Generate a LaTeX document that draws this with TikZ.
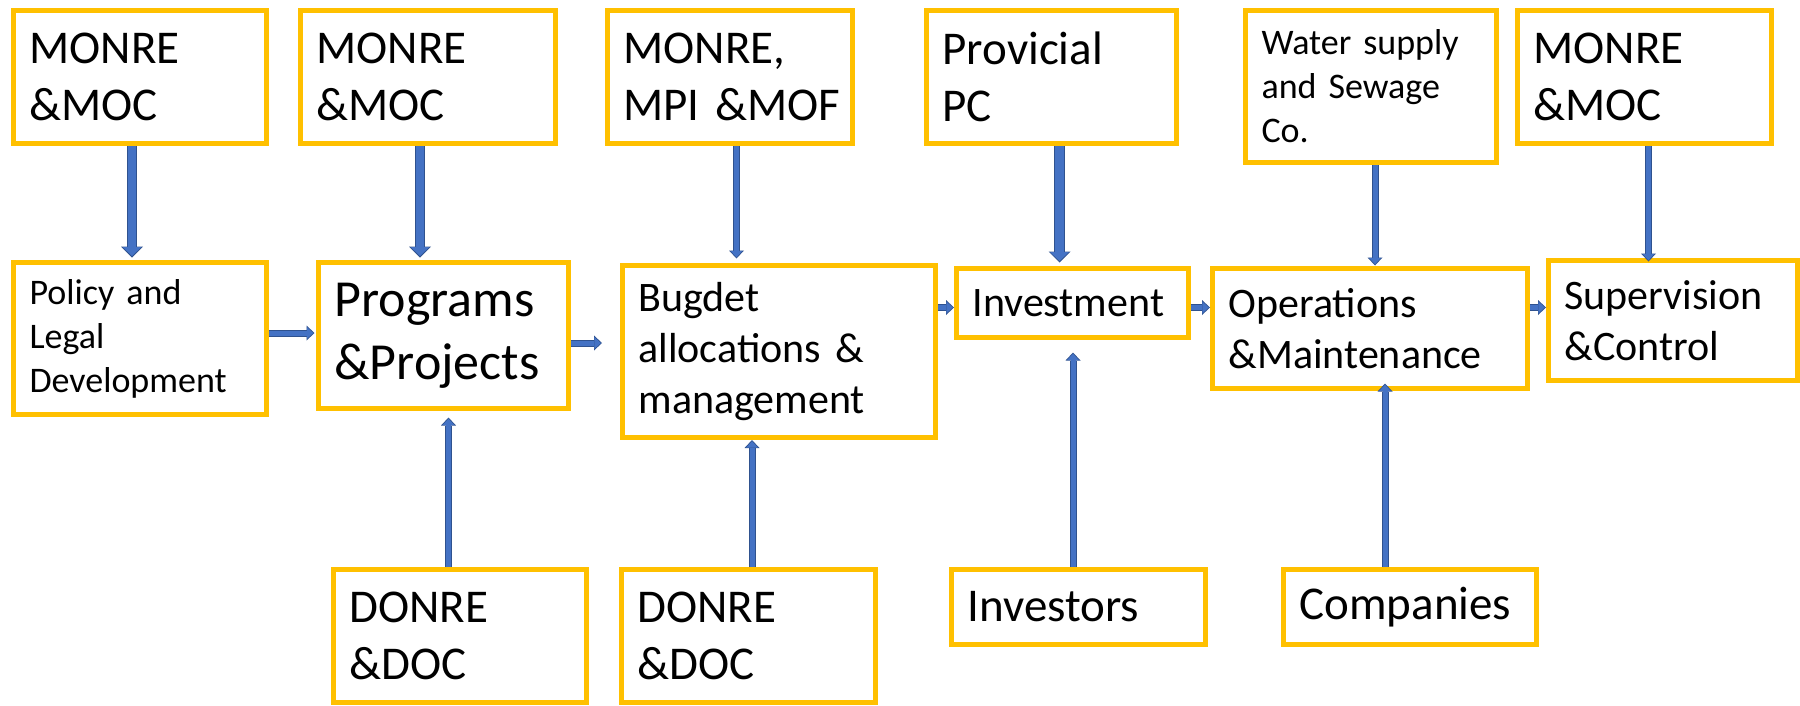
\documentclass[tikz,border=0pt]{standalone}
\usepackage{fontspec}
\setmainfont{Carlito}
\usetikzlibrary{arrows.meta}
\definecolor{boxY}{HTML}{FFC000}
\definecolor{bIn}{HTML}{4472C4}
\definecolor{bOut}{HTML}{2F528F}
\newcommand{\fbig}{\fontsize{47}{57}\selectfont}
\newcommand{\fprog}{\fontsize{52}{63}\selectfont}
\newcommand{\fmed}{\fontsize{42}{51}\selectfont}
\newcommand{\fsmall}{\fontsize{36}{44}\selectfont}
\tikzset{
  box/.style={draw=boxY, line width=5pt, fill=white, align=left, inner xsep=16pt, inner ysep=0pt, anchor=center},
  thickar/.style={draw=bIn, line width=8.5pt, -{Triangle[width=18.5pt,length=9pt,line width=0pt]}, shorten >=#1+1.4pt,
    preaction={draw=bOut, line width=10.5pt, -{Triangle[width=22pt,length=11pt,line width=0pt]}, shorten >=#1}},
  thickar/.default=0pt,
  thinar/.style={draw=bIn, line width=5pt, -{Triangle[width=12pt,length=6.5pt,line width=0pt]}, shorten >=#1+1.2pt,
    preaction={draw=bOut, line width=7pt, -{Triangle[width=15pt,length=8pt,line width=0pt]}, shorten >=#1}},
  thinar/.default=0pt,
}
\begin{document}
\begin{tikzpicture}[x=1pt,y=-1pt]
\useasboundingbox (0,0) rectangle (1800,705);
% top row
\node[box, minimum width=253pt, minimum height=133pt, text width=221pt, font=\fbig] (A1) at (140,77) {MONRE\\\&MOC};
\node[box, minimum width=255pt, minimum height=133pt, text width=223pt, font=\fbig] (B1) at (428,77) {MONRE\\\&MOC};
\node[box, minimum width=245pt, minimum height=133pt, text width=213pt, font=\fbig] (C1) at (730,77) {MONRE,\\MPI~\&MOF};
\node[box, minimum width=250pt, minimum height=133pt, text width=218pt, font=\fbig] (D1) at (1051.5,77) {Provicial\\PC};
\node[box, minimum width=251pt, minimum height=152pt, text width=219pt, font=\fsmall] (E1) at (1371,86.5) {Water supply\\and Sewage\\Co.};
\node[box, minimum width=254pt, minimum height=133pt, text width=222pt, font=\fbig] (F1) at (1644.5,77) {MONRE\\\&MOC};
% middle row
\node[box, minimum width=253pt, minimum height=152pt, text width=221pt, font=\fsmall] (Pol) at (140,338.5) {Policy and\\Legal\\Development};
\node[box, minimum width=250pt, minimum height=146pt, text width=218pt, font=\fprog] (Prog) at (443.5,335.5) {Programs\\\&Projects};
\node[box, minimum width=313pt, minimum height=172pt, text width=281pt, font=\fmed] (Bud) at (779,351.5) {Bugdet\\allocations \&\\management};
\node[box, minimum width=232pt, minimum height=69pt, text width=200pt, font=\fmed] (Inv) at (1072.5,303) {Investment};
\node[box, minimum width=315pt, minimum height=120pt, text width=283pt, font=\fmed] (Ops) at (1370,328.5) {Operations\\\&Maintenance};
\node[box, minimum width=249pt, minimum height=120pt, text width=217pt, font=\fmed] (Sup) at (1673,320.5) {Supervision\\\&Control};
% bottom row
\node[box, minimum width=253pt, minimum height=133pt, text width=221pt, font=\fbig] (Don1) at (460,636) {DONRE\\\&DOC};
\node[box, minimum width=254pt, minimum height=133pt, text width=222pt, font=\fbig] (Don2) at (748.5,636) {DONRE\\\&DOC};
\node[box, minimum width=254pt, minimum height=75pt, text width=222pt, font=\fbig] (Invs) at (1078.5,607) {Investors};
\node[box, minimum width=253pt, minimum height=75pt, text width=221pt, font=\fbig] (Comp) at (1410,607) {Companies};
% arrow guide coordinates
\coordinate (xa) at (132,0);
\coordinate (xb) at (420,0);
\coordinate (xc) at (736.5,0);
\coordinate (xd) at (1059.5,0);
\coordinate (xe) at (1375,0);
\coordinate (xf) at (1648.5,0);
\coordinate (xg) at (448.5,0);
\coordinate (xh) at (752,0);
\coordinate (xi) at (1073,0);
\coordinate (xj) at (1385,0);
\coordinate (ya) at (0,333);
\coordinate (yb) at (0,343);
\coordinate (yc) at (0,307.5);
% down arrows
\draw[thickar=2.5pt] (A1.south -| xa) -- (Pol.north -| xa);
\draw[thickar=2.5pt] (B1.south -| xb) -- (Prog.north -| xb);
\draw[thinar=4.5pt] (C1.south -| xc) -- (Bud.north -| xc);
\draw[thickar=3.5pt] (D1.south -| xd) -- (Inv.north -| xd);
\draw[thinar=0.5pt] (E1.south -| xe) -- (Ops.north -| xe);
\draw[thinar=-3.5pt] (F1.south -| xf) -- (Sup.north -| xf);
% up arrows
\draw[thinar=6.5pt] (Don1.north -| xg) -- (Prog.south -| xg);
\draw[thinar=0pt] (Don2.north -| xh) -- (Bud.south -| xh);
\draw[thinar=12.5pt] (Invs.north -| xi) -- (Inv.south -| xi);
\draw[thinar=-7.5pt] (Comp.north -| xj) -- (Ops.south -| xj);
% horizontal arrows
\draw[thinar=1.5pt] (Pol.east |- ya) -- (Prog.west |- ya);
\draw[thinar=18pt] (Prog.east |- yb) -- (Bud.west |- yb);
\draw[thinar=0pt] (Bud.east |- yc) -- (Inv.west |- yc);
\draw[thinar=0pt] (Inv.east |- yc) -- (Ops.west |- yc);
\draw[thinar=0pt] (Ops.east |- yc) -- (Sup.west |- yc);
\end{tikzpicture}
\end{document}
